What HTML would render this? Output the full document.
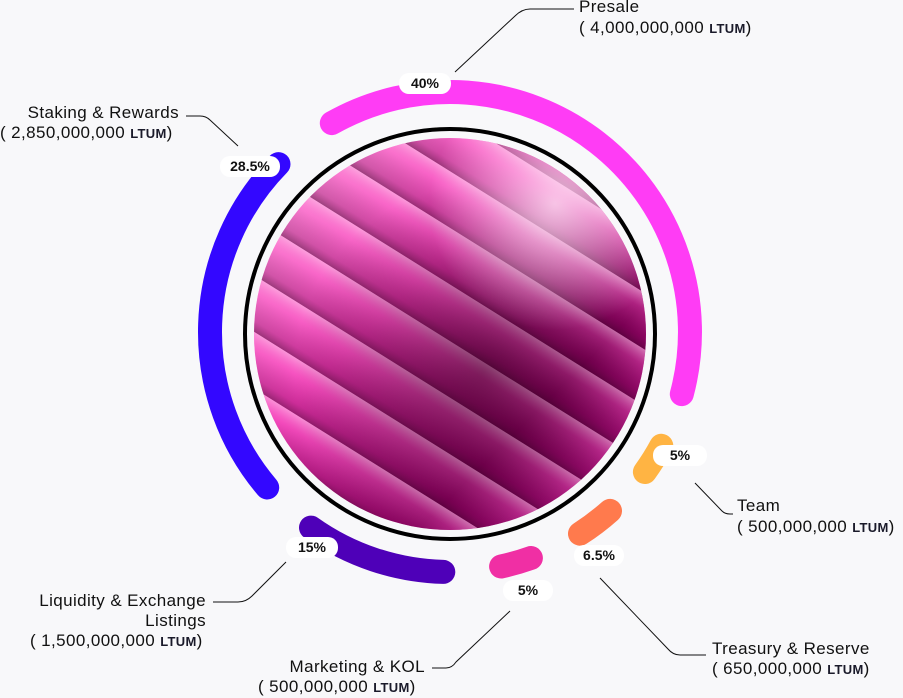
<!DOCTYPE html>
<html><head><meta charset="utf-8"><style>
html,body{margin:0;padding:0;background:#f8f8fa;}
body{width:903px;height:697px;overflow:hidden;position:relative;font-family:"Liberation Sans",sans-serif;color:#111;}
.t{position:absolute;font-size:17px;letter-spacing:0.4px;white-space:nowrap;line-height:20px;}
.s{font-size:13px;font-weight:bold;color:#1a1a2a;letter-spacing:0.3px;}
.r{text-align:right;}
.pill{position:absolute;background:#fff;border-radius:10px;font-weight:bold;font-size:14px;text-align:center;line-height:21px;height:21px;}
</style></head><body>
<svg width="903" height="697" style="position:absolute;left:0;top:0">
<defs>
<clipPath id="cp"><circle cx="450" cy="334" r="196"/></clipPath>
<linearGradient id="base" x1="0" y1="0" x2="1" y2="1">
<stop offset="0" stop-color="#ffc0ea"/><stop offset="0.4" stop-color="#f040b8"/><stop offset="0.7" stop-color="#8a0060"/><stop offset="1" stop-color="#d020a0"/>
</linearGradient>
<linearGradient id="band" x1="0" y1="0" x2="0" y2="1">
<stop offset="0" stop-color="#ffb0e4" stop-opacity="0.7"/><stop offset="0.3" stop-color="#ff60c8" stop-opacity="0.35"/><stop offset="0.8" stop-color="#7a0050" stop-opacity="0.3"/><stop offset="1" stop-color="#40002a" stop-opacity="0.5"/>
</linearGradient>
<radialGradient id="shade" cx="0.58" cy="0.6" r="0.45">
<stop offset="0" stop-color="#2a0018" stop-opacity="0.5"/><stop offset="1" stop-color="#2a0018" stop-opacity="0"/>
</radialGradient>
<radialGradient id="hl" cx="0.75" cy="0.2" r="0.3">
<stop offset="0" stop-color="#ffe6f6" stop-opacity="0.8"/><stop offset="1" stop-color="#ffe6f6" stop-opacity="0"/>
</radialGradient>
</defs>
<g clip-path="url(#cp)">
<rect x="240" y="120" width="420" height="420" fill="url(#base)"/>
<g transform="rotate(32 450 334)">
<rect x="150" y="100" width="600" height="48" fill="url(#band)"/>
<rect x="150" y="148" width="600" height="48" fill="url(#band)"/>
<rect x="150" y="196" width="600" height="48" fill="url(#band)"/>
<rect x="150" y="244" width="600" height="48" fill="url(#band)"/>
<rect x="150" y="292" width="600" height="48" fill="url(#band)"/>
<rect x="150" y="340" width="600" height="48" fill="url(#band)"/>
<rect x="150" y="388" width="600" height="48" fill="url(#band)"/>
<rect x="150" y="436" width="600" height="48" fill="url(#band)"/>
<rect x="150" y="484" width="600" height="48" fill="url(#band)"/>
</g>
<rect x="240" y="120" width="420" height="420" fill="url(#shade)"/>
<rect x="240" y="120" width="420" height="420" fill="url(#hl)"/>
</g>
<circle cx="450" cy="334" r="205" fill="none" stroke="#000" stroke-width="4"/>
<g fill="none" stroke-width="24" stroke-linecap="round">
<path d="M331.8,123.1 A240,240 0 0 1 681.8,394.1" stroke="#ff3cf5"/>
<path d="M661.3,445.8 A240,240 0 0 1 644.9,472" stroke="#ffb443"/>
<path d="M610,510.9 A240,240 0 0 1 580,533.7" stroke="#ff7a4d"/>
<path d="M530.9,558 A240,240 0 0 1 501.1,566.5" stroke="#f02fa4"/>
<path d="M443.3,571.9 A240,240 0 0 1 311,527.6" stroke="#4e00b8"/>
<path d="M267.2,487.5 A240,240 0 0 1 278.5,164.1" stroke="#3307ff"/>
</g>
<g fill="none" stroke="#111" stroke-width="1">
<path d="M455,72 L515,16 Q522,9 530,9 L574,9"/>
<path d="M186,116 L200,116 Q206,116 210,120 L238,146"/>
<path d="M213,602 L238,602 Q246,602 252,596 L286,562"/>
<path d="M432,668 L446,668 Q452,668 456,662 L510,611"/>
<path d="M600,578 L668,649 Q673,655 680,655 L706,655"/>
<path d="M695,483 L722,511 Q725,514 730,514 L733,514"/>
</g>
</svg>
<div class="pill" style="left:399px;top:73px;width:52px">40%</div>
<div class="pill" style="left:220px;top:156px;width:60px">28.5%</div>
<div class="pill" style="left:653px;top:445px;width:54px">5%</div>
<div class="pill" style="left:574px;top:545px;width:50px">6.5%</div>
<div class="pill" style="left:503px;top:580px;width:50px">5%</div>
<div class="pill" style="left:286px;top:537px;width:52px">15%</div>

<div class="t" style="left:579px;top:-3px">Presale</div>
<div class="t" style="left:579px;top:18px">( 4,000,000,000 <span class="s">LTUM</span>)</div>
<div class="t r" style="right:724px;top:103px">Staking &amp; Rewards</div>
<div class="t" style="left:0;top:123px">( 2,850,000,000 <span class="s">LTUM</span>)</div>
<div class="t" style="left:737px;top:496px">Team</div>
<div class="t" style="left:737px;top:517px">( 500,000,000 <span class="s">LTUM</span>)</div>
<div class="t" style="left:712px;top:639px">Treasury &amp; Reserve</div>
<div class="t" style="left:712px;top:659px">( 650,000,000 <span class="s">LTUM</span>)</div>
<div class="t r" style="right:478px;top:657px">Marketing &amp; KOL</div>
<div class="t" style="left:258px;top:677px">( 500,000,000 <span class="s">LTUM</span>)</div>
<div class="t r" style="right:697px;top:591px">Liquidity &amp; Exchange</div>
<div class="t r" style="right:697px;top:611px">Listings</div>
<div class="t" style="left:30px;top:631px">( 1,500,000,000 <span class="s">LTUM</span>)</div>
</body></html>
